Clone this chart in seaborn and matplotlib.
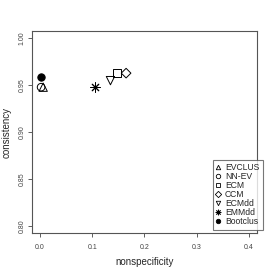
import matplotlib
matplotlib.use("Agg")
import matplotlib.pyplot as plt
import matplotlib.lines as mlines
import pandas as pd
import seaborn as sns

# values
methods = ["EVCLUS", "NN-EV", "ECM", "CCM", "ECMdd", "EMMdd", "Bootclus"]
nonspec = [0.006, 0.002, 0.148, 0.165, 0.135, 0.105, 0.001]
consist = [0.948, 0.948, 0.963, 0.963, 0.955, 0.948, 0.959]
xticks = [0.0, 0.1, 0.2, 0.3, 0.4]
yticks = [0.80, 0.85, 0.90, 0.95, 1.00]

df = pd.DataFrame({"method": methods, "nonspecificity": nonspec, "consistency": consist})

# R pch style markers
markers = {"EVCLUS": "^", "NN-EV": "o", "ECM": "s", "CCM": "D",
           "ECMdd": "v", "EMMdd": (8, 2, 0), "Bootclus": "o"}
sizes = {"EVCLUS": 36, "NN-EV": 30, "ECM": 32, "CCM": 24,
         "ECMdd": 36, "EMMdd": 45, "Bootclus": 28}
filled = {"Bootclus", "EMMdd"}  # asterisk is a line marker -> needs face colour

sns.set_style("white")
plt.rcParams["font.family"] = ["Liberation Sans", "DejaVu Sans"]

fig = plt.figure(figsize=(2.74, 2.74), dpi=100)
ax = fig.add_axes([0.1157, 0.1485, 0.8223, 0.7384])

for m in methods:
    sub = df[df["method"] == m]
    sns.scatterplot(data=sub, x="nonspecificity", y="consistency", ax=ax,
                    marker=markers[m], s=sizes[m],
                    facecolor="black" if m in filled else "none",
                    edgecolor="black", linewidth=0.7, legend=False)

ax.set_xlim(-0.016, 0.416)
ax.set_ylim(0.792, 1.008)
ax.set_xticks(xticks)
ax.set_xticklabels(["%.1f" % v for v in xticks])
ax.set_yticks(yticks)
ax.set_yticklabels(["%.2f" % v for v in yticks], rotation=90, va="center")
ax.tick_params(axis="both", labelsize=5, length=3, width=0.6,
               colors="#444444", direction="out", bottom=True, left=True)
ax.tick_params(axis="x", pad=5)
ax.tick_params(axis="y", pad=1.5)
for sp in ax.spines.values():
    sp.set_color("#555555")
    sp.set_linewidth(0.8)
ax.set_xlabel("nonspecificity", fontsize=7, labelpad=4)
ax.set_ylabel("consistency", fontsize=7, labelpad=5)

handles = []
for m in methods:
    handles.append(mlines.Line2D([], [], linestyle="none", marker=markers[m],
                                 markersize=4.0 if m == "EMMdd" else 3.2,
                                 markerfacecolor="black" if m == "Bootclus" else "none",
                                 markeredgecolor="black", markeredgewidth=0.6, label=m))
leg = fig.legend(handles=handles, loc="upper left",
                 bbox_to_anchor=(213 / 274, 1 - 160 / 274),
                 fontsize=6.2, frameon=True, fancybox=False,
                 handlelength=0.4, handletextpad=0.6, labelspacing=0.0,
                 borderpad=0.4, borderaxespad=0)
leg.get_frame().set_edgecolor("#555555")
leg.get_frame().set_linewidth(0.8)

fig.savefig("out.png", dpi=100)
